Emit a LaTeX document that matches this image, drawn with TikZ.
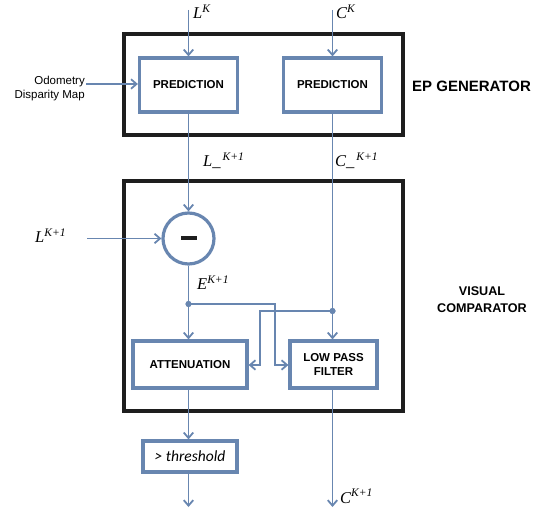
\documentclass[tikz,border=0pt]{standalone}
\usepackage{fontspec}
\setmainfont{Liberation Serif}
\setsansfont{Liberation Sans}
\newfontfamily\calib{Carlito}
\usetikzlibrary{arrows.meta}
\definecolor{cblue}{RGB}{104,134,176}
\definecolor{cblack}{RGB}{30,30,30}
\tikzset{
  conn/.style={draw=cblue, line width=1.8pt, -{Straight Barb[length=5.5pt,width=9.5pt]}},
  blk/.style={draw=cblue, line width=3.2pt, fill=white, rectangle, inner sep=0pt, align=center,
     font=\sffamily\bfseries\fontsize{11.5}{14}\selectfont},
  outerbox/.style={draw=cblack, line width=4pt, rectangle, inner sep=0pt},
  lbl/.style={inner sep=0pt, anchor=base west, font=\itshape\fontsize{16.5}{19}\selectfont},
  title/.style={inner sep=0pt, align=center, font=\sffamily\bfseries},
  jdot/.style={circle, fill=cblue, inner sep=0pt, minimum size=6pt},
}
\begin{document}
\begin{tikzpicture}[x=1pt,y=-1pt]
\useasboundingbox (0,0) rectangle (548,510);
% outer boxes
\node[outerbox, minimum width=279pt, minimum height=101pt] (ep) at (263.5,84.5) {};
\node[outerbox, minimum width=279pt, minimum height=230pt] (vc) at (263.5,296) {};
% titles
\node[title, font=\sffamily\bfseries\fontsize{15}{18}\selectfont, anchor=base west] (ept) at (412,92) {EP GENERATOR};
\node[title, font=\sffamily\bfseries\fontsize{12.6}{17}\selectfont, anchor=base] (vct) at (482,312) {VISUAL\\COMPARATOR};
% blocks
\node[blk, minimum width=98pt, minimum height=54pt] (pl) at (188.5,85) {PREDICTION};
\node[blk, minimum width=98pt, minimum height=54pt] (pr) at (332.5,85) {PREDICTION};
\node[circle, draw=cblue, line width=3.2pt, fill=white, minimum size=51pt, inner sep=0pt] (mn) at (188.5,238.5) {};
\fill[cblack] ([xshift=-8pt,yshift=-2pt]mn.center) rectangle ([xshift=8pt,yshift=2pt]mn.center);
\node[blk, minimum width=114pt, minimum height=47pt] (att) at (190,364.5) {ATTENUATION};
\node[blk, minimum width=87pt, minimum height=47pt] (lpf) at (333.5,364.5) {LOW PASS\\FILTER};
\node[blk, minimum width=94pt, minimum height=31pt, font=\calib\itshape\fontsize{15.5}{17}\selectfont] (thr) at (190,456.5) {> threshold};
% coordinates
\coordinate (lk) at (188.5,10);
\coordinate (ck) at (332.5,10);
\coordinate (lin) at (87,238.5);
\coordinate (odoa) at (86,84);
\node[jdot] (d1) at (188.5,304) {};
\node[jdot] (d2) at (332.5,311) {};
\coordinate (j1) at (275,304);
\coordinate (j2) at (275,365);
\coordinate (k1) at (260,311);
\coordinate (k2) at (260,365);
\coordinate (outl) at (188.5,507);
\coordinate (outc) at (332.5,507);
% odometry
\node[inner sep=0pt, align=right, anchor=base east, font=\sffamily\fontsize{11.5}{14}\selectfont] (odo) at (85,99) {Odometry\\Disparity Map};
% labels
\node[lbl] (llk) at (193,19) {L\textsuperscript{K}};
\node[lbl] (lck) at (336,19) {C\textsuperscript{K}};
\node[lbl] (llp) at (203,167) {L\_\textsuperscript{\,K+1}};
\node[lbl] (lcp) at (335,167) {C\_\textsuperscript{\,K+1}};
\node[lbl] (llin) at (35,243) {L\textsuperscript{K+1}};
\node[lbl] (le) at (197,290) {E\textsuperscript{K+1}};
\node[lbl] (lco) at (340,503) {C\textsuperscript{K+1}};
% connectors
\draw[conn] (lk) -- (pl.north);
\draw[conn] (ck) -- (pr.north);
\draw[conn] (odoa) -- (pl.west |- odoa);
\draw[conn] (pl.south) -- (mn.north);
\draw[conn] (lin) -- (mn.west);
\draw[conn] (pr.south) -- (d2.center) -- (lpf.north -| d2);
\draw[conn] (mn.south) -- (d1.center) -- (att.north -| d1);
\draw[conn] (d1.center) -- (j1) -- (j2) -- (lpf.west |- j2);
\draw[conn] (d2.center) -- (k1) -- (k2) -- (att.east |- k2);
\draw[conn] (att.south -| d1) -- (thr.north -| d1);
\draw[conn] (thr.south -| d1) -- (outl);
\draw[conn] (lpf.south -| d2) -- (outc);
\node[jdot] at (d1) {};
\node[jdot] at (d2) {};
\end{tikzpicture}
\end{document}
